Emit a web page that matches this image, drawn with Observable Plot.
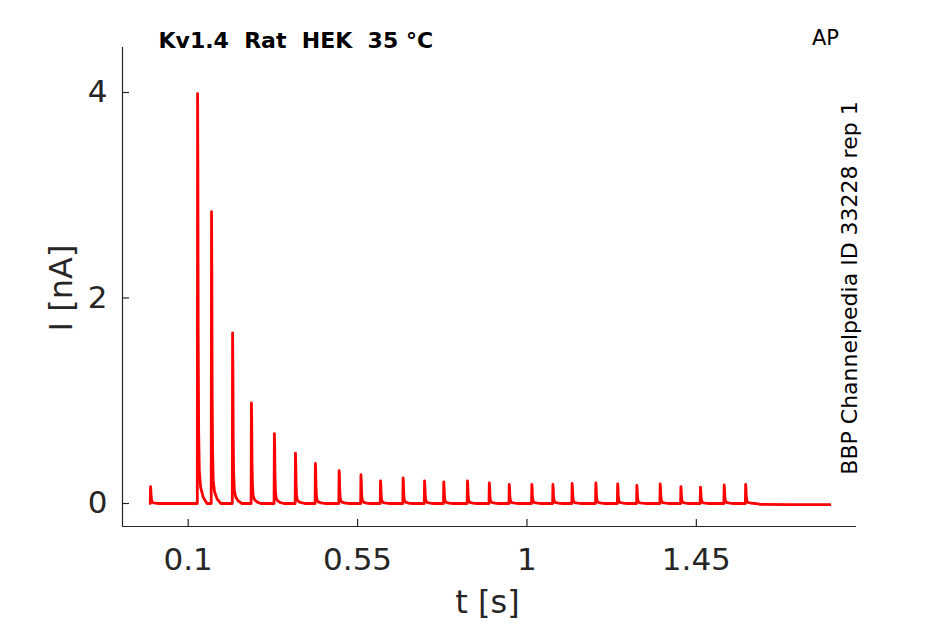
<!DOCTYPE html>
<html>
<head>
<meta charset="utf-8">
<script src="https://cdn.jsdelivr.net/npm/d3@7"></script>
<script src="https://cdn.jsdelivr.net/npm/@observablehq/plot@0.6"></script>
<style>
  html, body { margin: 0; padding: 0; background: #fff; }
  #chart { width: 945px; height: 624px; }
</style>
</head>
<body>
<div id="chart"></div>
<script>
// ---- data ----
const spikeTimes = [0.000, 0.125, 0.162, 0.218, 0.268, 0.329, 0.385, 0.438, 0.501, 0.559,
  0.611, 0.671, 0.728, 0.779, 0.842, 0.900, 0.953, 1.013, 1.069, 1.120,
  1.183, 1.241, 1.292, 1.354, 1.409, 1.461, 1.524, 1.581];
const spikePeaks = [0.165, 3.99, 2.84, 1.66, 0.98, 0.68, 0.49, 0.39, 0.32, 0.28,
  0.22, 0.25, 0.22, 0.21, 0.22, 0.20, 0.185, 0.185, 0.185, 0.195,
  0.20, 0.19, 0.175, 0.19, 0.165, 0.16, 0.18, 0.185];
// spike shape: time offset (s) and fraction of peak
const shapeOffsets = [-0.0008, 0, 0.0008, 0.0016, 0.0028, 0.0045, 0.008, 0.015, 0.025];
const shapeFractions = [0, 1, 0.8, 0.4, 0.18, 0.08, 0.04, 0.015, 0];
const traceStart = [-0.001, 0];
const traceEnd = [[1.62, -0.008], [1.70, -0.012], [1.805, -0.012]];

const xTicks = [0.1, 0.55, 1, 1.45];
const xTickLabels = ["0.1", "0.55", "1", "1.45"];
const yTicks = [0, 2, 4];
const xDomain = [-0.0745, 1.8755];
const yDomain = [-0.224, 4.438];

const titleText = "Kv1.4  Rat  HEK  35 \u00B0C";
const cornerText = "AP";
const sideText = "BBP Channelpedia ID 33228 rep 1";
const xLabel = "t [s]";
const yLabel = "I [nA]";

// ---- build trace table ----
const trace = [];
trace.push({t: traceStart[0], i: traceStart[1]});
spikeTimes.forEach((t0, k) => {
  shapeOffsets.forEach((o, j) => {
    trace.push({t: t0 + o, i: spikePeaks[k] * shapeFractions[j]});
  });
});
traceEnd.forEach(([t, i]) => trace.push({t, i}));

const ink = "#262626";
const W = 945, H = 624;
const mL = 122, mR = 89, mT = 47, mB = 98;
const innerW = W - mL - mR, innerH = H - mT - mB;

const plot = Plot.plot({
  width: W,
  height: H,
  marginLeft: mL,
  marginRight: mR,
  marginTop: mT,
  marginBottom: mB,
  style: {fontFamily: "DejaVu Sans", color: ink, background: "#fff", overflow: "visible"},
  x: {domain: xDomain},
  y: {domain: yDomain},
  marks: [
    Plot.axisX({ticks: xTicks, tickFormat: (d) => xTickLabels[xTicks.indexOf(d)], tickSize: 0, tickPadding: 21, fontSize: 31, label: null, color: ink}),
    Plot.axisY({ticks: yTicks, tickFormat: d => String(d), tickSize: 0, tickPadding: 15, fontSize: 31, label: null, color: ink}),
    Plot.tickX(xTicks, {x: d => d, stroke: ink, strokeWidth: 1.2, insetTop: innerH - 7}),
    Plot.tickY(yTicks, {y: d => d, stroke: ink, strokeWidth: 1.2, insetRight: innerW - 7}),
    Plot.ruleX([xDomain[0]], {stroke: ink, strokeWidth: 1.2}),
    Plot.ruleY([yDomain[0]], {stroke: ink, strokeWidth: 1.2}),
    Plot.line(trace, {x: "t", y: "i", stroke: "#ff0000", strokeWidth: 2.8, strokeLinejoin: "round"}),
    Plot.text([titleText], {frameAnchor: "top-left", dx: 36, dy: -7, textAnchor: "start", lineAnchor: "middle", fontSize: 22, fontWeight: "bold", fill: "#000"}),
    Plot.text([cornerText], {frameAnchor: "top-right", dx: -31, dy: -9, textAnchor: "middle", lineAnchor: "middle", fontSize: 21, fill: "#000"}),
    Plot.text([sideText], {frameAnchor: "right", dx: -7, dy: 1, rotate: -90, textAnchor: "middle", lineAnchor: "middle", fontSize: 22, fill: "#000"}),
    Plot.text([yLabel], {frameAnchor: "left", dx: -61, dy: 1, rotate: -90, textAnchor: "middle", lineAnchor: "middle", fontSize: 32, fill: ink}),
    Plot.text([xLabel], {frameAnchor: "bottom", dx: -2, dy: 76, textAnchor: "middle", lineAnchor: "middle", fontSize: 32, fill: ink})
  ]
});
document.getElementById("chart").appendChild(plot);
</script>
</body>
</html>
